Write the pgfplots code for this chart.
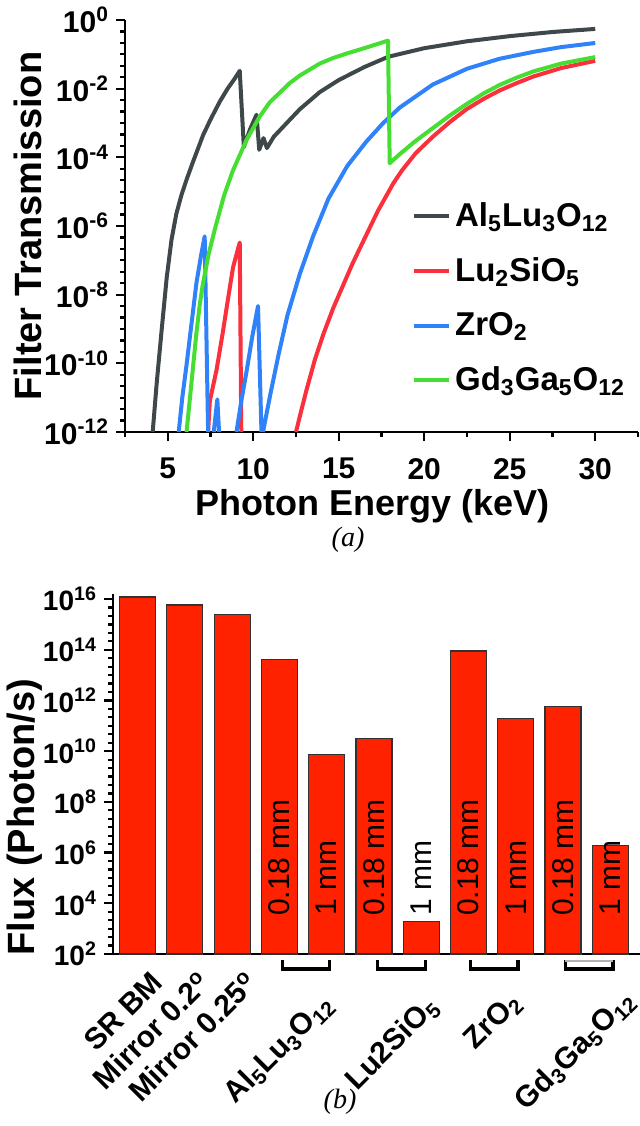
\documentclass[border=0pt]{standalone}
\usepackage{fontspec}
\setmainfont{Liberation Sans}
\newfontfamily\capfont{Liberation Serif}
\usepackage{pgfplots}
\pgfplotsset{compat=1.18}
\definecolor{cAl}{RGB}{62,72,74}
\definecolor{cLu}{RGB}{250,48,60}
\definecolor{cZr}{RGB}{48,130,250}
\definecolor{cGd}{RGB}{70,222,50}
\definecolor{barred}{RGB}{255,34,0}
\definecolor{edge}{RGB}{50,50,50}
\newcommand{\sz}[1]{\fontsize{#1}{#1}\selectfont}

\begin{document}
\begin{tikzpicture}
\useasboundingbox (0,0) rectangle (320pt,563pt);

%% (a) filter transmission
\begin{axis}[
  at={(62.5pt,347pt)}, anchor=south west,
  width=256.5pt, height=206pt, scale only axis,
  xmin=2.5, xmax=32.5,
  ymode=log, ymin=1e-12, ymax=1,
  axis x line*=bottom, axis y line*=left,
  axis line style={line width=1.3pt},
  tick align=outside,
  major tick length=4.5pt, minor tick length=2.5pt,
  every tick/.style={line width=1.1pt, black},
  xtick={5,10,...,30}, minor xtick={2.5,7.5,...,32.5},
  ytick={1e-12,1e-10,1e-8,1e-6,1e-4,1e-2,1},
  yticklabels={10\textsuperscript{-12},10\textsuperscript{-10},10\textsuperscript{-8},
    10\textsuperscript{-6},10\textsuperscript{-4},10\textsuperscript{-2},10\textsuperscript{0}},
  minor ytick={2.154e-12,4.642e-12,1e-11,2.154e-11,4.642e-11,2.154e-10,4.642e-10,
    1e-9,2.154e-9,4.642e-9,2.154e-8,4.642e-8,1e-7,2.154e-7,4.642e-7,2.154e-6,4.642e-6,
    1e-5,2.154e-5,4.642e-5,2.154e-4,4.642e-4,1e-3,2.154e-3,4.642e-3,2.154e-2,4.642e-2,
    1e-1,2.154e-1,4.642e-1},
  every tick label/.append style={font=\sz{15}\bfseries},
  xticklabel style={yshift=-5pt},
  /pgf/number format/assume math mode=true,
  xlabel={Photon Energy (keV)},
  ylabel={Filter Transmission},
  every axis x label/.style={at={(axis description cs:0.483,-0.18)}, anchor=center, font=\sz{18}\bfseries},
  every axis y label/.style={at={(axis description cs:-0.189,0.5)}, rotate=90, anchor=center, font=\sz{19}\bfseries},
  unbounded coords=jump,
  every axis plot/.append style={line width=2pt, line join=round},
  legend style={draw=none, fill=none, at={(axis description cs:0.559,0.567)}, anchor=north west,
    font=\sz{16.5}\bfseries, row sep=10pt, inner sep=0pt},
  legend cell align=left,
  legend image code/.code={\draw[#1] (0pt,0pt) -- (17.5pt,0pt);},
]
\addplot[cAl] coordinates {
  (4.12,1e-12)(4.35,2.51e-11)(4.63,7.94e-10)(4.94,3.16e-8)(5.22,3.98e-7)(5.5,2.24e-6)
  (5.8,7.94e-6)(6.1,2.24e-5)(6.5,7.94e-5)(7.07,4.47e-4)(7.5,1.26e-3)(8.04,4.17e-3)
  (8.5,1e-2)(8.9,1.91e-2)(9.21,3.31e-2)(9.45,2.0e-4)(9.8,6.31e-4)(10.19,1.74e-3)
  (10.35,1.66e-4)(10.6,3.63e-4)(10.8,1.86e-4)(11.2,3.98e-4)(12.13,1.23e-3)(12.72,2.51e-3)
  (13.89,7.94e-3)(15,1.78e-2)(16.5,4.27e-2)(17.9,8.51e-2)(20,0.151)(22.5,0.240)
  (25,0.339)(27.5,0.447)(30,0.550)
};
\addlegendentry{Al\textsubscript{5}Lu\textsubscript{3}O\textsubscript{12}}
\addplot[cLu] coordinates {
  (7.36,1e-12)(7.46,7.94e-12)(7.85,6.31e-11)(8.22,7.94e-10)(8.5,6.31e-9)(8.82,6.31e-8)
  (9.21,3.31e-7)(9.3,1e-12)(9.4,nan)
  (12.5,1e-12)(12.72,2.82e-12)(13.1,1.58e-11)(13.6,1.26e-10)(14.1,7.08e-10)(14.67,3.98e-9)
  (15.06,1.12e-8)(15.8,7.94e-8)(16.62,5.62e-7)(17.3,2.82e-6)(18.2,1.78e-5)(18.7,4.17e-5)
  (19.5,1.32e-4)(20.5,3.98e-4)(21.5,1.07e-3)(22.47,2.51e-3)(23.5,5.13e-3)(24.42,8.91e-3)
  (25.4,1.45e-2)(26.36,2.24e-2)(28,3.98e-2)(30,6.46e-2)
};
\addlegendentry{Lu\textsubscript{2}SiO\textsubscript{5}}
\addplot[cZr] coordinates {
  (5.64,1e-12)(5.85,1e-11)(6.09,8.32e-11)(6.4,1.58e-9)(6.68,2.24e-8)(6.95,1.41e-7)
  (7.16,5.01e-7)(7.36,1e-12)(7.5,nan)
  (7.69,1e-12)(7.9,8.91e-12)(8.0,1e-12)(8.5,nan)
  (9.02,1e-12)(9.3,7.94e-12)(9.6,5.5e-11)(9.95,6.31e-10)(10.28,4.68e-9)(10.48,1e-12)(10.52,nan)
  (10.57,1e-12)(11.0,1.26e-11)(11.5,2.0e-10)(12.0,2.51e-9)(12.72,3.98e-8)(13.5,5.01e-7)
  (14.4,6.31e-6)(15.5,5.62e-5)(16.6,2.82e-4)(17.6,1e-3)(18.57,2.82e-3)(20.5,1.32e-2)
  (22.5,3.80e-2)(24.4,7.41e-2)(26.35,0.117)(28,0.162)(30,0.214)
};
\addlegendentry{ZrO\textsubscript{2}}
\addplot[cGd] coordinates {
  (6.1,1e-12)(6.29,8.91e-12)(6.5,1e-10)(6.68,7.94e-10)(6.87,5.01e-9)(7.05,2.0e-8)
  (7.4,1.58e-7)(7.75,7.94e-7)(8.3,7.94e-6)(8.8,3.98e-5)(9.6,3.16e-4)(10.38,1.55e-3)
  (10.96,3.98e-3)(12.13,1.45e-2)(12.72,2.40e-2)(13.89,5.37e-2)(14.65,7.76e-2)(15.5,0.107)
  (16.62,0.158)(17.88,0.251)(17.98,6.76e-5)(18.7,1.41e-4)(19.5,3.02e-4)(20.5,7.08e-4)
  (21.5,1.66e-3)(22.47,3.55e-3)(23.5,7.41e-3)(24.42,1.29e-2)(25.4,2.09e-2)(26.36,3.16e-2)
  (28,5.37e-2)(30,8.32e-2)
};
\addlegendentry{Gd\textsubscript{3}Ga\textsubscript{5}O\textsubscript{12}}
\end{axis}

\node[font=\capfont\itshape\sz{14}] at (174pt,293pt) {(\textit{a})};

%% (b) flux
\begin{axis}[
  at={(56.5pt,86pt)}, anchor=south west,
  width=263.5pt, height=180pt, scale only axis,
  xmin=-0.52, xmax=10.63,
  ymode=log, ymin=100, ymax=1.585e16, log origin y=infty,
  ybar, bar width=18pt,
  clip=false,
  axis x line*=bottom, axis y line*=left,
  axis line style={line width=1.3pt},
  tick align=outside,
  major tick length=4.5pt, minor tick length=2.5pt,
  every tick/.style={line width=1.1pt, black},
  xtick style={draw=none},
  ytick={1e2,1e4,1e6,1e8,1e10,1e12,1e14,1e16},
  yticklabels={10\textsuperscript{2},10\textsuperscript{4},10\textsuperscript{6},10\textsuperscript{8},
    10\textsuperscript{10},10\textsuperscript{12},10\textsuperscript{14},10\textsuperscript{16}},
  minor ytick={2.154e2,4.642e2,1e3,2.154e3,4.642e3,2.154e4,4.642e4,1e5,2.154e5,4.642e5,
    2.154e6,4.642e6,1e7,2.154e7,4.642e7,2.154e8,4.642e8,1e9,2.154e9,4.642e9,2.154e10,
    4.642e10,1e11,2.154e11,4.642e11,2.154e12,4.642e12,1e13,2.154e13,4.642e13,2.154e14,
    4.642e14,1e15,2.154e15,4.642e15},
  yticklabel style={font=\sz{14}\bfseries},
  xtick={0,1,2},
  xticklabels={SR BM, Mirror 0.2\textsuperscript{o}, Mirror 0.25\textsuperscript{o}},
  xticklabel style={font=\sz{15}\bfseries, xshift=6pt, yshift=-3pt, rotate=45, anchor=north east, inner sep=0pt},
  ylabel={Flux (Photon/s)},
  every axis y label/.style={at={(axis description cs:-0.167,0.38)}, rotate=90, anchor=center, font=\sz{19}\bfseries},
]
\addplot[fill=barred, draw=edge, line width=0.6pt] coordinates {
  (0,1.2e16)(1,5.8e15)(2,2.5e15)(3,4.0e13)(4,7.2e9)(5,3.1e10)
  (6,1.9e3)(7,8.9e13)(8,2.0e11)(9,5.6e11)(10,1.9e6)
};
%% thickness labels inside the bars
\node[rotate=90, anchor=west, font=\sz{15}] at ([yshift=15.5pt]axis cs:3,100) {0.18 mm};
\node[rotate=90, anchor=west, font=\sz{15}] at ([yshift=15.5pt]axis cs:4,100) {1 mm};
\node[rotate=90, anchor=west, font=\sz{15}] at ([yshift=15.5pt]axis cs:5,100) {0.18 mm};
\node[rotate=90, anchor=west, font=\sz{15}] at ([yshift=15.5pt]axis cs:6,100) {1 mm};
\node[rotate=90, anchor=west, font=\sz{15}] at ([yshift=15.5pt]axis cs:7,100) {0.18 mm};
\node[rotate=90, anchor=west, font=\sz{15}] at ([yshift=15.5pt]axis cs:8,100) {1 mm};
\node[rotate=90, anchor=west, font=\sz{15}] at ([yshift=15.5pt]axis cs:9,100) {0.18 mm};
\node[rotate=90, anchor=west, font=\sz{15}] at ([yshift=15.5pt]axis cs:10,100) {1 mm};
%% brackets under each filter pair
\draw[line width=1.7pt] ([yshift=-3pt]axis cs:3.06,100) -- ([yshift=-7.5pt]axis cs:3.06,100)
  -- ([yshift=-7.5pt]axis cs:4.06,100) -- ([yshift=-3pt]axis cs:4.06,100);
\draw[line width=1.7pt] ([yshift=-3pt]axis cs:5.08,100) -- ([yshift=-7.5pt]axis cs:5.08,100)
  -- ([yshift=-7.5pt]axis cs:6.09,100) -- ([yshift=-3pt]axis cs:6.09,100);
\draw[line width=1.7pt] ([yshift=-3pt]axis cs:7.04,100) -- ([yshift=-7.5pt]axis cs:7.04,100)
  -- ([yshift=-7.5pt]axis cs:8.05,100) -- ([yshift=-3pt]axis cs:8.05,100);
\draw[line width=1.7pt] ([yshift=-3pt]axis cs:9.05,100) -- ([yshift=-7.5pt]axis cs:9.05,100)
  -- ([yshift=-7.5pt]axis cs:10.06,100) -- ([yshift=-3pt]axis cs:10.06,100);
\draw[line width=0.8pt, black!30] ([yshift=-3.4pt]axis cs:9.05,100) -- ([yshift=-3.4pt]axis cs:10.06,100);
%% filter names under the brackets
\node[rotate=45, anchor=east, inner sep=0pt, font=\sz{15}\bfseries] at ([xshift=13pt,yshift=-23pt]axis cs:3.5,100)
  {Al\textsubscript{5}Lu\textsubscript{3}O\textsubscript{12}};
\node[rotate=45, anchor=east, inner sep=0pt, font=\sz{15}\bfseries] at ([xshift=18.5pt,yshift=-24pt]axis cs:5.5,100)
  {Lu2SiO\textsubscript{5}};
\node[rotate=45, anchor=east, inner sep=0pt, font=\sz{15}\bfseries] at ([xshift=12.5pt,yshift=-22pt]axis cs:7.5,100)
  {ZrO\textsubscript{2}};
\node[rotate=45, anchor=east, inner sep=0pt, font=\sz{15}\bfseries] at ([xshift=22pt,yshift=-21pt]axis cs:9.5,100)
  {Gd\textsubscript{3}Ga\textsubscript{5}O\textsubscript{12}};
\end{axis}

\node[font=\capfont\itshape\sz{14}] at (170pt,12pt) {(\textit{b})};
\end{tikzpicture}
\end{document}
